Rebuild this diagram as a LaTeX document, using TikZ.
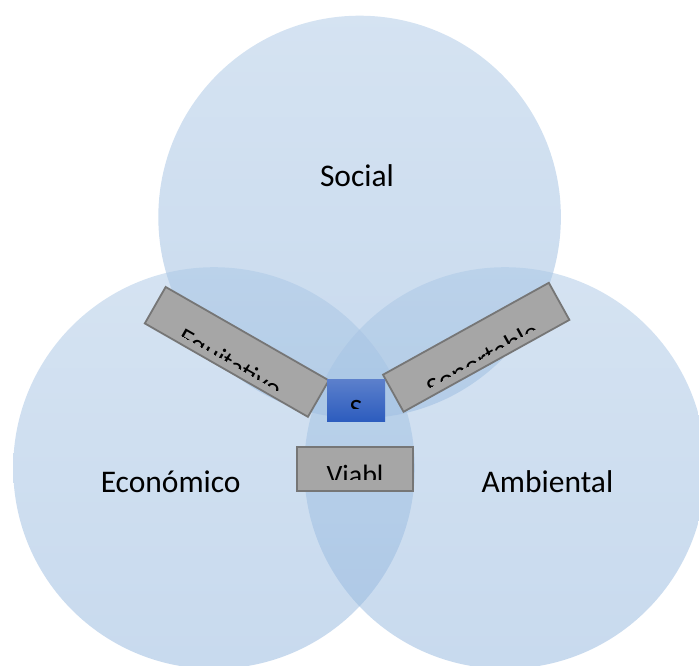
\documentclass[tikz,border=0pt]{standalone}
\usepackage{fontspec}
\setmainfont{Carlito}
\definecolor{circtop}{RGB}{171,199,229}
\definecolor{circbot}{RGB}{145,181,221}
\definecolor{boxfill}{RGB}{166,166,166}
\definecolor{boxline}{RGB}{118,118,118}
\definecolor{bluetop}{RGB}{92,128,204}
\definecolor{bluebot}{RGB}{44,92,190}
\tikzset{
  circ/.style={top color=circtop, bottom color=circbot, fill opacity=0.5, draw=none},
  gbox/.style={fill=boxfill, draw=boxline, line width=1.8pt},
  bbox/.style={top color=bluetop, bottom color=bluebot, draw=none},
  boxtext/.style={inner sep=0pt, anchor=base, font=\fontsize{28}{30}\selectfont, text=black},
  label/.style={inner sep=0pt, anchor=base, font=\fontsize{31.5}{36}\selectfont, text=black}
}
\begin{document}
\begin{tikzpicture}[x=1pt, y=-1pt]
\useasboundingbox (0,0) rectangle (699,666);
% circles
\shade[circ] (359.6,217) circle[radius=201.3pt];
\shade[circ] (214,468) circle[radius=200.8pt];
\shade[circ] (505,468) circle[radius=200.8pt];
% labels
\node[label] (social) at (357,186.7) {Social};
\node[label] (econ) at (170.7,492.8) {Económico};
\node[label] (amb) at (547.5,492.8) {Ambiental};
% Equitativo box
\begin{scope}[shift={(236.8,351.9)}, rotate=-29.8]
  \draw[gbox] (-94,-21) rectangle (94,21);
  \begin{scope}
    \clip (-94,-21) rectangle (94,13.5);
    \node[boxtext, transform shape] (equi) at (0,22.8) {Equitativo};
  \end{scope}
\end{scope}
% Soportable box
\begin{scope}[shift={(476.2,347.3)}, rotate=29]
  \draw[gbox] (-94.8,-21.2) rectangle (94.8,21.2);
  \begin{scope}
    \clip (-94.8,-21.2) rectangle (94.8,12.5);
    \node[boxtext, transform shape] (sopo) at (0,23.5) {Soportable};
  \end{scope}
\end{scope}
% S box
\shade[bbox] (327,379) rectangle (385,421.7);
\begin{scope}
  \clip (327,379) rectangle (385,408.5);
  \node[boxtext] (sost) at (356,418.5) {S};
\end{scope}
% Viabl box
\draw[gbox] (297,447.3) rectangle (413.3,490.7);
\begin{scope}
  \clip (297,447.3) rectangle (413.3,479.3);
  \node[boxtext] (viab) at (355,484.7) {Viabl};
\end{scope}
\end{tikzpicture}
\end{document}
